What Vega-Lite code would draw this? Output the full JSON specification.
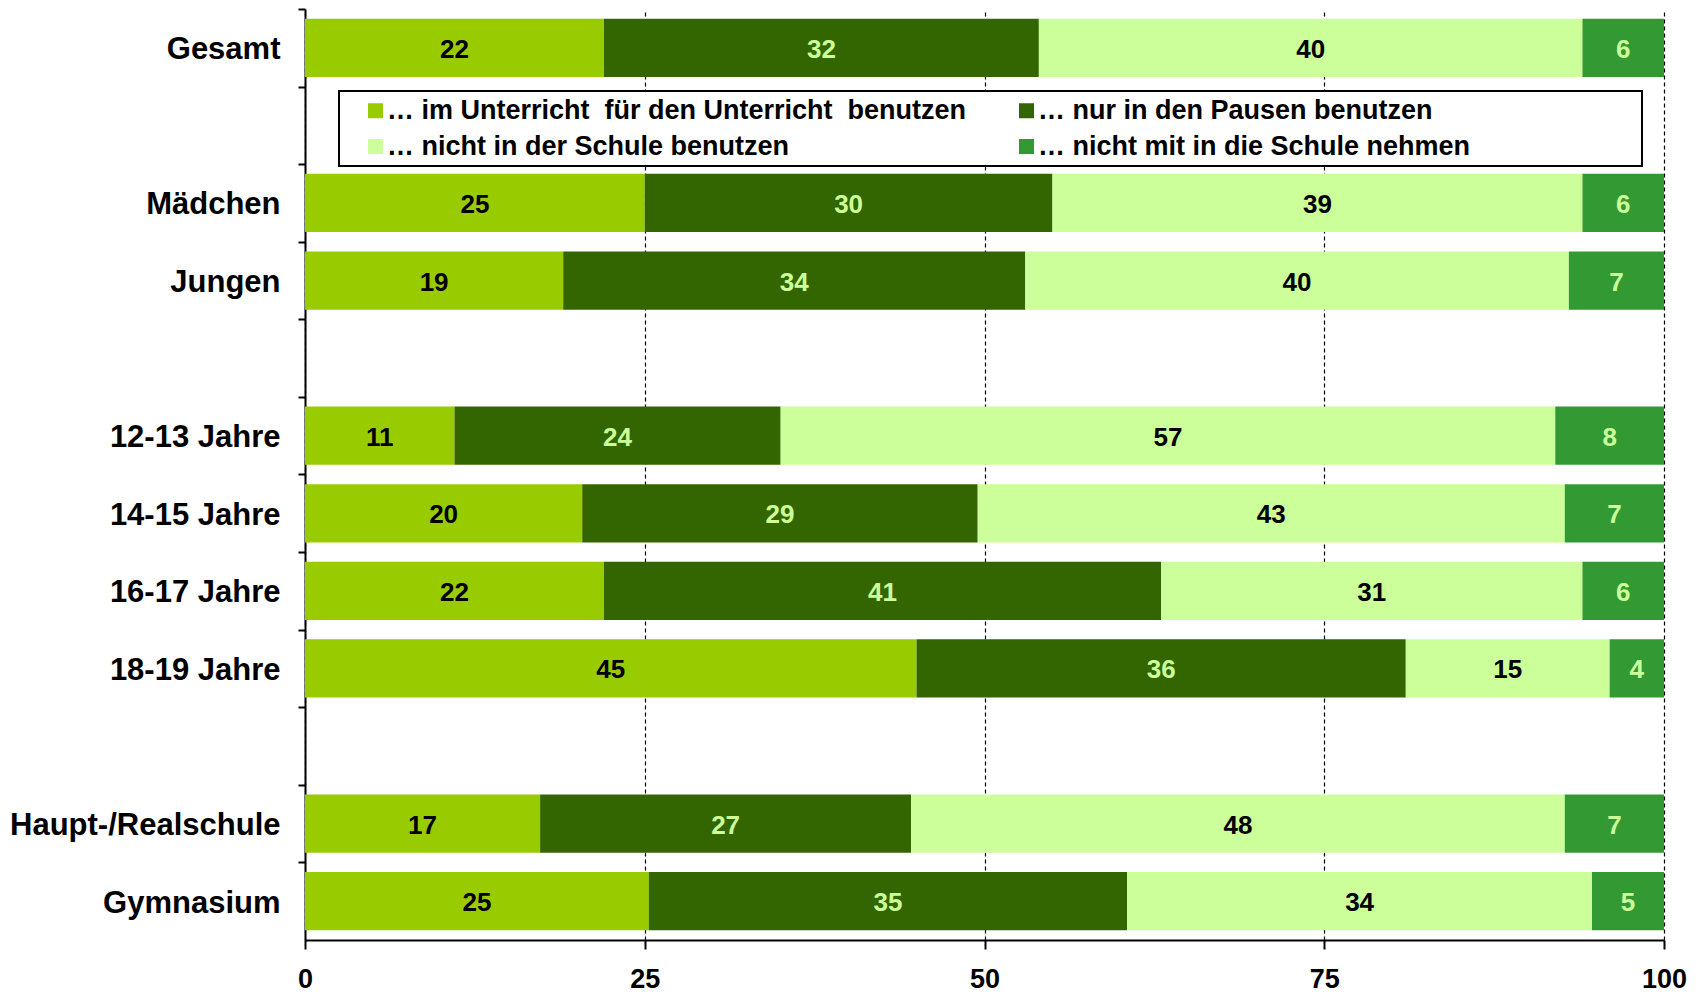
{
  "$schema": "https://vega.github.io/schema/vega-lite/v6.json",
  "width": 1359,
  "height": 931,
  "autosize": "none",
  "padding": {"left": 305, "top": 9, "right": 39, "bottom": 53},
  "config": {"font": "Liberation Sans", "view": {"stroke": null}, "legend": {"strokeWidth": 2}},
  "data": {"values": [
    {"group": "Gesamt", "s": "a", "value": 22}, {"group": "Gesamt", "s": "b", "value": 32}, {"group": "Gesamt", "s": "c", "value": 40}, {"group": "Gesamt", "s": "d", "value": 6},
    {"group": "Mädchen", "s": "a", "value": 25}, {"group": "Mädchen", "s": "b", "value": 30}, {"group": "Mädchen", "s": "c", "value": 39}, {"group": "Mädchen", "s": "d", "value": 6},
    {"group": "Jungen", "s": "a", "value": 19}, {"group": "Jungen", "s": "b", "value": 34}, {"group": "Jungen", "s": "c", "value": 40}, {"group": "Jungen", "s": "d", "value": 7},
    {"group": "12-13 Jahre", "s": "a", "value": 11}, {"group": "12-13 Jahre", "s": "b", "value": 24}, {"group": "12-13 Jahre", "s": "c", "value": 57}, {"group": "12-13 Jahre", "s": "d", "value": 8},
    {"group": "14-15 Jahre", "s": "a", "value": 20.4}, {"group": "14-15 Jahre", "s": "b", "value": 29.1}, {"group": "14-15 Jahre", "s": "c", "value": 43.2}, {"group": "14-15 Jahre", "s": "d", "value": 7.3},
    {"group": "16-17 Jahre", "s": "a", "value": 22}, {"group": "16-17 Jahre", "s": "b", "value": 41}, {"group": "16-17 Jahre", "s": "c", "value": 31}, {"group": "16-17 Jahre", "s": "d", "value": 6},
    {"group": "18-19 Jahre", "s": "a", "value": 45}, {"group": "18-19 Jahre", "s": "b", "value": 36}, {"group": "18-19 Jahre", "s": "c", "value": 15}, {"group": "18-19 Jahre", "s": "d", "value": 4},
    {"group": "Haupt-/Realschule", "s": "a", "value": 17.3}, {"group": "Haupt-/Realschule", "s": "b", "value": 27.3}, {"group": "Haupt-/Realschule", "s": "c", "value": 48.1}, {"group": "Haupt-/Realschule", "s": "d", "value": 7.3},
    {"group": "Gymnasium", "s": "a", "value": 25.3}, {"group": "Gymnasium", "s": "b", "value": 35.2}, {"group": "Gymnasium", "s": "c", "value": 34.2}, {"group": "Gymnasium", "s": "d", "value": 5.3}
  ]},
  "layer": [
    {
      "mark": {"type": "bar"},
      "encoding": {
        "y": {
          "field": "group", "type": "nominal",
          "scale": {"domain": ["Gesamt", "_1", "Mädchen", "Jungen", "_2", "12-13 Jahre", "14-15 Jahre", "16-17 Jahre", "18-19 Jahre", "_3", "Haupt-/Realschule", "Gymnasium"], "paddingInner": 0.25, "paddingOuter": 0.125},
          "axis": {
            "title": null, "bandPosition": 0, "tickOffset": -9.7, "labelOffset": 11.7, "labelExpr": "indexof(datum.value, '_') == 0 ? '' : datum.value",
            "domainColor": "black", "domainWidth": 2, "tickColor": "black", "tickWidth": 2, "tickSize": 7,
            "labelFont": "Liberation Sans", "labelFontSize": 31, "labelFontWeight": "bold", "labelColor": "black", "labelPadding": 18, "labelLimit": 400, "grid": false
          }
        },
        "x": {
          "field": "value", "type": "quantitative", "stack": "zero",
          "scale": {"domain": [0, 100], "nice": false},
          "axis": {
            "title": null, "values": [0, 25, 50, 75, 100], "grid": true, "gridColor": "black", "gridDash": [4, 3], "gridWidth": 1.2, "gridOpacity": 1,
            "domainColor": "black", "domainWidth": 2, "tickColor": "black", "tickWidth": 2, "tickSize": 9,
            "labelFont": "Liberation Sans", "labelFontSize": 27, "labelFontWeight": "bold", "labelColor": "black", "labelPadding": 17, "labelFlush": false
          }
        },
        "color": {
          "field": "s", "type": "nominal",
          "scale": {"domain": ["a", "c", "b", "d"], "range": ["#99CC00", "#CCFF99", "#336600", "#339933"]},
          "legend": {
            "orient": "none", "legendX": 34, "legendY": 82, "columns": 2, "gridAlign": "each", "columnPadding": 46, "rowPadding": 8,
            "title": " ", "titleOrient": "left", "titleFontSize": 1, "titlePadding": 17,
            "labelExpr": "datum.label == 'a' ? '… im Unterricht\u00a0 für den Unterricht\u00a0 benutzen' : datum.label == 'b' ? '… nur in den Pausen benutzen' : datum.label == 'c' ? '… nicht in der Schule benutzen' : '… nicht mit in die Schule nehmen\u00a0\u00a0\u00a0\u00a0\u00a0\u00a0\u00a0\u00a0\u00a0\u00a0\u00a0\u00a0\u00a0\u00a0\u00a0\u00a0\u00a0\u00a0\u00a0\u00a0\u00a0\u00a0\u200b'",
            "labelFont": "Liberation Sans", "labelFontSize": 27, "labelFontWeight": "bold", "labelColor": "black", "labelLimit": 1000, "labelOffset": -2,
            "symbolType": "square", "symbolSize": 225, "symbolStrokeWidth": 0, "symbolOpacity": 1,
            "padding": 6, "strokeColor": "black", "fillColor": "white"
          }
        },
        "order": {"field": "s", "type": "ordinal", "sort": "ascending"}
      }
    },
    {
      "mark": {"type": "text", "fontSize": 26, "fontWeight": "bold", "font": "Liberation Sans", "baseline": "middle", "dy": 2},
      "encoding": {
        "y": {"field": "group", "type": "nominal"},
        "x": {"field": "value", "type": "quantitative", "stack": "zero", "bandPosition": 0.5},
        "text": {"field": "value", "type": "quantitative", "format": ".0f"},
        "color": {
          "field": "s", "type": "nominal",
          "scale": {"domain": ["a", "b", "c", "d"], "range": ["#000000", "#CCFF99", "#000000", "#CCFF99"]},
          "legend": null
        },
        "order": {"field": "s", "type": "ordinal", "sort": "ascending"}
      }
    }
  ],
  "resolve": {"scale": {"color": "independent"}}
}
